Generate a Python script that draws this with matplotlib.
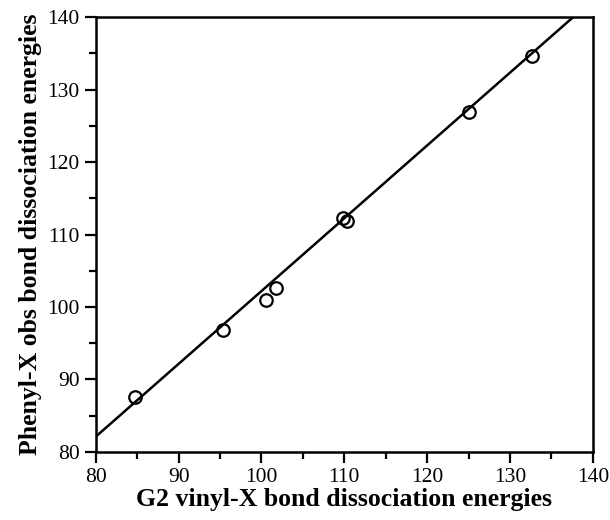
import numpy as np
import matplotlib
matplotlib.use('Agg')
import matplotlib.pyplot as plt
from matplotlib.ticker import MultipleLocator

# G2 vinyl-X vs observed phenyl-X bond dissociation energies
g2_vinyl = [84.7, 95.3, 100.5, 101.8, 109.8, 110.3, 125.1, 132.7]
phenyl_obs = [87.6, 96.8, 100.9, 102.6, 112.3, 111.9, 126.9, 134.7]

# fitted line
fit_slope = 1.005
fit_intercept = 1.7
fit_x = [80, 140]

plt.rcParams['font.family'] = ['Liberation Serif', 'DejaVu Serif']

fig = plt.figure(figsize=(6.1, 5.2), dpi=100)
ax = fig.add_axes([0.157, 0.131, 0.815, 0.836])

xs = np.array(fit_x, dtype=float)
ax.plot(xs, fit_slope * xs + fit_intercept, color='black', lw=1.8, zorder=2)
ax.plot(g2_vinyl, phenyl_obs, 'o', mfc='none', mec='black', mew=1.6, ms=9, zorder=3)

ax.set_xlim(80, 140)
ax.set_ylim(80, 140)
ax.xaxis.set_major_locator(MultipleLocator(10))
ax.yaxis.set_major_locator(MultipleLocator(10))
ax.xaxis.set_minor_locator(MultipleLocator(5))
ax.yaxis.set_minor_locator(MultipleLocator(5))
ax.tick_params(which='major', direction='out', length=8, width=1.6, labelsize=15.5, top=False, right=False)
ax.tick_params(which='minor', direction='out', length=5, width=1.6, top=False, right=False)
for s in ax.spines.values():
    s.set_linewidth(1.8)

ax.set_xlabel('G2 vinyl-X bond dissociation energies', fontsize=18.5, fontweight='bold', labelpad=1)
ax.set_ylabel('Phenyl-X obs bond dissociation energies', fontsize=18.5, fontweight='bold', labelpad=4)

fig.savefig('out.png', dpi=100)
